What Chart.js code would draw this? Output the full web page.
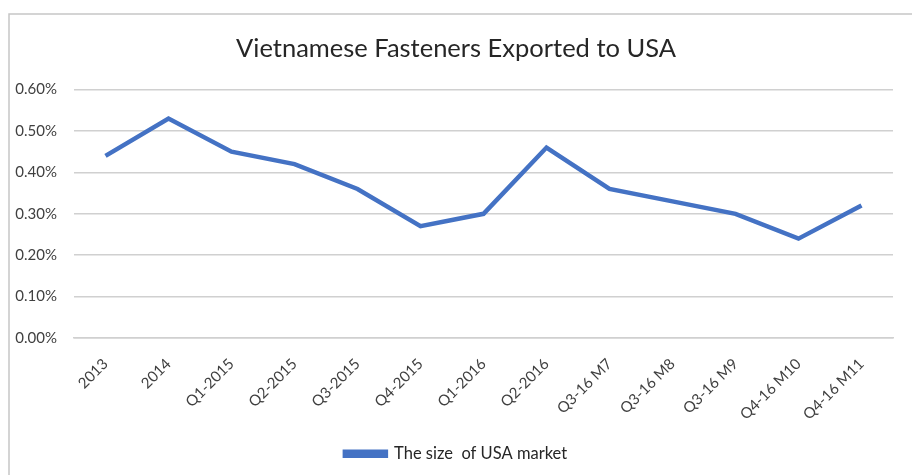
<!DOCTYPE html>
<html>
<head>
<meta charset="utf-8">
<script src="https://cdn.jsdelivr.net/npm/chart.js@4.4.0/dist/chart.umd.min.js"></script>
<style>
    html,body{margin:0;padding:0;background:#fff;}
    #wrap{position:relative;width:912px;height:475px;}
</style>
</head>
<body>
<div id="wrap"><canvas id="myChart" width="912" height="475"></canvas></div>
<script>
// datos del grafico
const periods=['2013','2014','Q1-2015','Q2-2015','Q3-2015','Q4-2015','Q1-2016','Q2-2016','Q3-16 M7','Q3-16 M8','Q3-16 M9','Q4-16 M10','Q4-16 M11'];
const usaShare=[0.44,0.53,0.45,0.42,0.36,0.27,0.30,0.46,0.36,0.33,0.30,0.24,0.32];
const yTicks=[0,0.1,0.2,0.3,0.4,0.5,0.6];
const seriesName='The size  of USA market';
const chartTitle='Vietnamese Fasteners Exported to USA';

document.addEventListener('DOMContentLoaded',()=>{
    Chart.defaults.font.family='Lato';
    Chart.defaults.color='#404040';

    // marco gris alrededor del grafico
    const frame={
        id:'frame',
        beforeDraw(chart){
            const ctx=chart.ctx;
            ctx.save();
            ctx.strokeStyle='#c6c6c6';
            ctx.lineWidth=1.5;
            ctx.strokeRect(9,14,1000,1000);
            ctx.restore();
        }
    };

    const can=document.getElementById('myChart');
    const config={
        type:'line',
        data:{
            labels:periods,
            datasets:[{
                label:seriesName,
                data:usaShare,
                borderColor:'#4472c4',
                backgroundColor:'#4472c4',
                borderWidth:4.5,
                pointRadius:0,
                tension:0
            }]
        },
        options:{
            responsive:false,
            animation:false,
            layout:{padding:{left:0,right:0,top:0,bottom:3}},
            plugins:{
                title:{
                    display:true,
                    text:chartTitle,
                    color:'#262626',
                    font:{size:25.5,weight:'normal'},
                    padding:{top:33,bottom:26}
                },
                legend:{
                    position:'bottom',
                    labels:{
                        boxWidth:41,
                        boxHeight:4,
                        padding:5,
                        color:'#262626',
                        font:{size:16.5}
                    }
                },
                tooltip:{enabled:false}
            },
            scales:{
                x:{
                    offset:true,
                    grid:{display:false,drawTicks:false},
                    border:{color:'#d0d0d0',width:1.5},
                    ticks:{
                        maxRotation:45,
                        minRotation:45,
                        padding:17,
                        font:{size:15},
                        color:'#404040'
                    }
                },
                y:{
                    min:0,
                    max:0.6,
                    afterBuildTicks:(axis)=>{axis.ticks=yTicks.map(v=>({value:v}));},
                    afterFit:(axis)=>{axis.width=74;},
                    grid:{color:'#d0d0d0',lineWidth:1.5,drawTicks:false},
                    border:{display:false},
                    ticks:{
                        padding:17,
                        font:{size:15},
                        color:'#404040',
                        callback:(v)=>v.toFixed(2)+'%'
                    }
                },
                // eje vacio a la derecha, solo para dejar margen
                yRight:{
                    position:'right',
                    min:0,
                    max:0.6,
                    afterFit:(axis)=>{axis.width=19;},
                    grid:{display:false,drawTicks:false},
                    border:{display:false},
                    ticks:{display:false}
                }
            }
        },
        plugins:[frame]
    };

    const chart=new Chart(can,config);
});
</script>
</body>
</html>
